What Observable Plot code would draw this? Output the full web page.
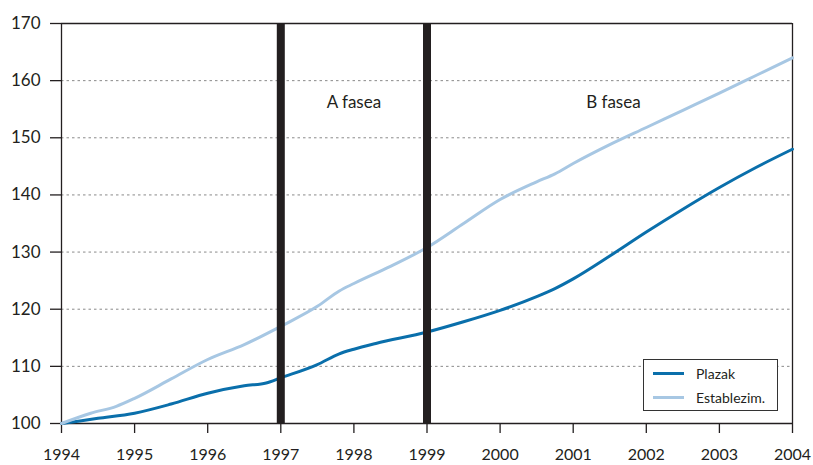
<!DOCTYPE html>
<html>
<head>
<meta charset="utf-8">
<script src="https://cdn.jsdelivr.net/npm/d3@7"></script>
<script src="https://cdn.jsdelivr.net/npm/@observablehq/plot@0.6"></script>
<style>
  body { margin: 0; background: #fff; font-family: Lato, "Open Sans", sans-serif; }
  #wrap { position: relative; width: 813px; height: 465px; }
  #legend { position: absolute; left: 643px; top: 359px; width: 135px; height: 52px;
    border: 1.3px solid #333; background: #fff; box-sizing: border-box; font-size: 14px; color: #231f20; }
  .li { position: absolute; left: 9px; display: flex; align-items: center; height: 16px; }
  .sw { width: 31px; height: 3px; margin-right: 12px; }
</style>
</head>
<body>
<div id="wrap"></div>
<script>
const seriesNames = ["Plazak", "Establezim."];
const colors = ["#0a6fab", "#a7c7e3"];
const plazakT = [1994, 1994.5, 1995, 1995.5, 1996, 1996.5, 1996.8, 1997, 1997.5, 1997.8, 1998, 1998.3, 1999, 1999.5, 2000, 2000.5, 2000.75, 2001, 2001.5, 2002, 2002.5, 2003, 2003.5, 2004];
const plazakV = [100, 100.9, 101.8, 103.4, 105.3, 106.6, 107.1, 108.0, 110.3, 112.2, 113.0, 114.0, 116.0, 117.8, 119.8, 122.2, 123.6, 125.3, 129.3, 133.5, 137.5, 141.3, 144.8, 148.0];
const establT = [1994, 1994.4, 1994.75, 1995, 1995.5, 1996, 1996.5, 1997, 1997.5, 1997.8, 1998, 1998.5, 1999, 1999.5, 2000, 2000.5, 2000.75, 2001, 2001.5, 2002, 2002.5, 2003, 2003.5, 2004];
const establV = [100, 101.8, 103.0, 104.4, 107.8, 111.2, 113.8, 117.0, 120.5, 123.2, 124.5, 127.5, 130.8, 135.0, 139.2, 142.3, 143.7, 145.5, 148.8, 151.8, 154.8, 157.8, 160.9, 164.0];
const xTicks = [1994, 1995, 1996, 1997, 1998, 1999, 2000, 2001, 2002, 2003, 2004];
const yTicks = [100, 110, 120, 130, 140, 150, 160, 170];
const gridY = [110, 120, 130, 140, 150, 160];
const phaseBounds = [1997, 1999];
const phaseLabels = ["A fasea", "B fasea"];
const phaseLabelX = [1998, 2001.55];
const phaseLabelY = 156.2;

const data = [
  ...plazakT.map((t, i) => ({t, v: plazakV[i], s: seriesNames[0]})),
  ...establT.map((t, i) => ({t, v: establV[i], s: seriesNames[1]}))
];

const chart = Plot.plot({
  width: 813, height: 465,
  marginLeft: 61, marginRight: 21, marginTop: 23, marginBottom: 42,
  style: {fontFamily: "Lato, 'Open Sans', sans-serif", fontSize: "17px", color: "#231f20", background: "#fff"},
  x: {domain: [1994, 2004]},
  y: {domain: [100, 170]},
  color: {domain: seriesNames, range: colors},
  marks: [
    Plot.ruleY(gridY, {stroke: "#8a8a8a", strokeDasharray: "2.5,3", strokeWidth: 1}),
    Plot.axisX({ticks: xTicks, tickFormat: d => String(d), tickSize: 10, tickPadding: 15, fontSize: 16, label: null, stroke: "#231f20", strokeWidth: 1.3}),
    Plot.axisY({ticks: yTicks, tickSize: 11, tickPadding: 10, fontSize: 17, label: null, stroke: "#231f20", strokeWidth: 1.3}),
    Plot.ruleX([1994, 2004], {y1: 100, y2: 170, stroke: "#231f20", strokeWidth: 1.3}),
    Plot.ruleY([100, 170], {x1: 1994, x2: 2004, stroke: "#231f20", strokeWidth: 1.3}),
    Plot.line(data, {x: "t", y: "v", stroke: "s", z: "s", strokeWidth: 3, curve: "monotone-x"}),
    Plot.ruleX(phaseBounds, {y1: 100, y2: 170, stroke: "#231f20", strokeWidth: 8}),
    Plot.text(phaseLabels, {x: (d, i) => phaseLabelX[i], y: () => phaseLabelY, text: d => d, fontSize: 17, fill: "#231f20"})
  ]
});
const wrap = document.getElementById("wrap");
wrap.appendChild(chart);
const lg = document.createElement("div");
lg.id = "legend";
seriesNames.forEach((n, i) => {
  const it = document.createElement("div");
  it.className = "li";
  it.style.top = (i === 0 ? 5 : 29) + "px";
  it.innerHTML = `<span class="sw" style="background:${colors[i]}"></span><span>${n}</span>`;
  lg.appendChild(it);
});
wrap.appendChild(lg);
</script>
</body>
</html>
